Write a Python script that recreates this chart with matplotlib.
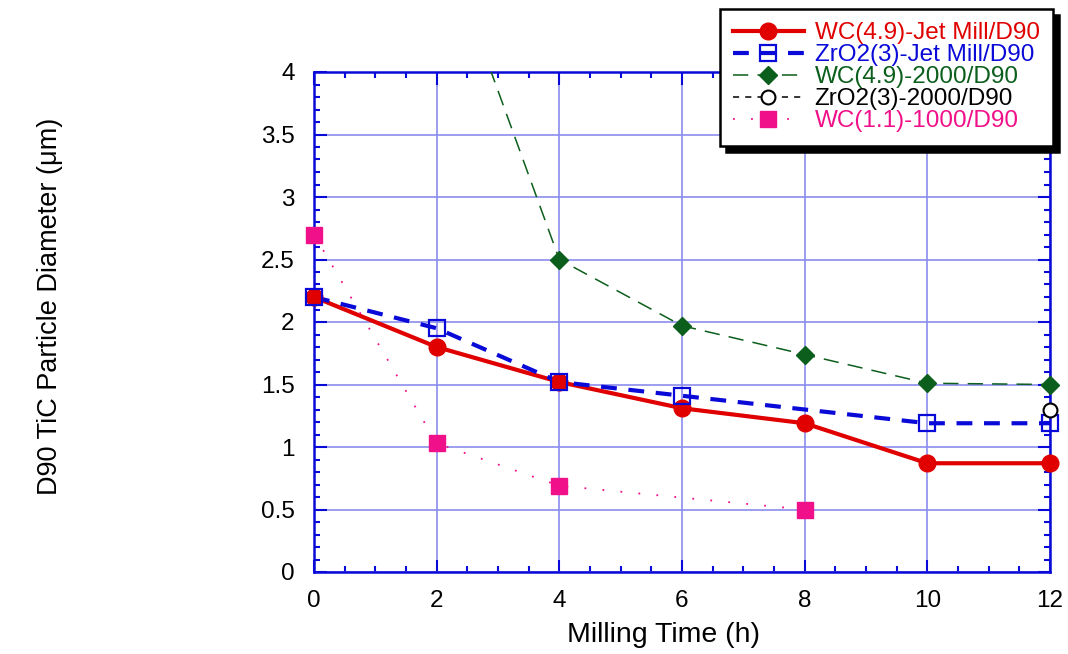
import numpy as np
import matplotlib.pyplot as plt
from matplotlib.lines import Line2D
from matplotlib.ticker import MultipleLocator

plt.rcParams['font.family'] = ['Liberation Sans', 'DejaVu Sans']

# milling time (h) and D90 values (um)
t_wc49_jet = [0, 2, 4, 6, 8, 10, 12]
d_wc49_jet = [2.2, 1.8, 1.52, 1.31, 1.19, 0.87, 0.87]

t_zr3_jet = [0, 2, 4, 6, 10, 12]
d_zr3_jet = [2.2, 1.95, 1.52, 1.41, 1.19, 1.19]

t_wc49_2000 = [2, 4, 6, 8, 10, 12]
d_wc49_2000 = [5.2, 2.5, 1.97, 1.74, 1.51, 1.5]

t_zr3_2000 = [12]
d_zr3_2000 = [1.3]

t_wc11_1000 = [0, 2, 4, 8]
d_wc11_1000 = [2.7, 1.03, 0.69, 0.5]

labels = ['WC(4.9)-Jet Mill/D90', 'ZrO2(3)-Jet Mill/D90', 'WC(4.9)-2000/D90',
          'ZrO2(3)-2000/D90', 'WC(1.1)-1000/D90']

BLUE = '#0a0ad8'
series = [
    (t_wc49_jet, d_wc49_jet, dict(color='#e00000', lw=3, ls='-'),
     dict(marker='o', ms=12, mfc='#e00000', mec='#e00000')),
    (t_zr3_jet, d_zr3_jet, dict(color=BLUE, lw=3, ls=(0, (3.8, 2.8))),
     dict(marker='s', ms=11, mfc='none', mec=BLUE, mew=1.6)),
    (t_wc49_2000, d_wc49_2000, dict(color='#0b5e1b', lw=1.1, ls=(0, (10, 6))),
     dict(marker='D', ms=9, mfc='#0b5e1b', mec='#0b5e1b')),
    (t_zr3_2000, d_zr3_2000, dict(color='black', lw=1.1, ls=(0, (4, 4))),
     dict(marker='o', ms=10, mfc='white', mec='black', mew=1.5)),
    (t_wc11_1000, d_wc11_1000, dict(color='#f0108a', lw=1.3, ls=(0, (1, 9))),
     dict(marker='s', ms=11, mfc='#f0108a', mec='#f0108a')),
]
txt_colors = ['#e00000', BLUE, '#0b5e1b', 'black', '#f0108a']

fig = plt.figure(figsize=(10.68, 6.54), dpi=100)
ax = fig.add_axes([314 / 1068, 1 - 572 / 654, (1050 - 314) / 1068, 500 / 654])

handles = []
for t, d, lkw, mkw in series:
    ax.plot(t, d, zorder=3, **lkw)
    # markers are drawn on top of the frame too, only inside the y range
    tm = [a for a, b in zip(t, d) if b <= 4]
    dm = [b for b in d if b <= 4]
    ax.plot(tm, dm, ls='none', clip_on=False, zorder=4, **mkw)
    handles.append(Line2D([], [], **lkw, **mkw))

ax.set_xlim(0, 12)
ax.set_ylim(0, 4)
ax.xaxis.set_major_locator(MultipleLocator(2))
ax.xaxis.set_minor_locator(MultipleLocator(0.5))
ax.yaxis.set_major_locator(MultipleLocator(0.5))
ax.yaxis.set_minor_locator(MultipleLocator(0.1))
ax.set_yticks([0, 0.5, 1, 1.5, 2, 2.5, 3, 3.5, 4])
ax.set_yticklabels(['0', '0.5', '1', '1.5', '2', '2.5', '3', '3.5', '4'])

ax.grid(True, which='major', color='#8c8cee', lw=1.2, zorder=0)
ax.set_axisbelow(True)
ax.tick_params(which='both', direction='in', top=True, right=True, color=BLUE,
               labelsize=17.5, width=1.5)
ax.tick_params(which='major', length=9)
ax.tick_params(which='minor', length=4.5)
ax.tick_params(axis='x', pad=13)
ax.tick_params(axis='y', pad=14)
for s in ax.spines.values():
    s.set_color(BLUE)
    s.set_linewidth(1.8)
    s.set_zorder(2.5)

ax.set_xlabel('Milling Time (h)', fontsize=20.5)
ax.xaxis.set_label_coords(0.475, -0.1)
fig.text(50 / 1068, 1 - 306 / 654, 'D90 TiC Particle Diameter (\u03bcm)',
         rotation=90, ha='center', va='center', fontsize=19.5)

leg = fig.legend(handles, labels, loc='upper right',
                 bbox_to_anchor=(1053 / 1068, 1 - 9 / 654),
                 fontsize=17.5, numpoints=1, handlelength=2.9, handletextpad=0.45,
                 labelspacing=0.0, borderpad=0.55, borderaxespad=0,
                 fancybox=False, framealpha=1, edgecolor='black',
                 shadow={'ox': 4.5, 'oy': -4.5, 'facecolor': 'black',
                         'edgecolor': 'black', 'alpha': 1})
leg.get_frame().set_linewidth(1.8)
for txt, c in zip(leg.get_texts(), txt_colors):
    txt.set_color(c)

fig.savefig('out.png', dpi=100)
